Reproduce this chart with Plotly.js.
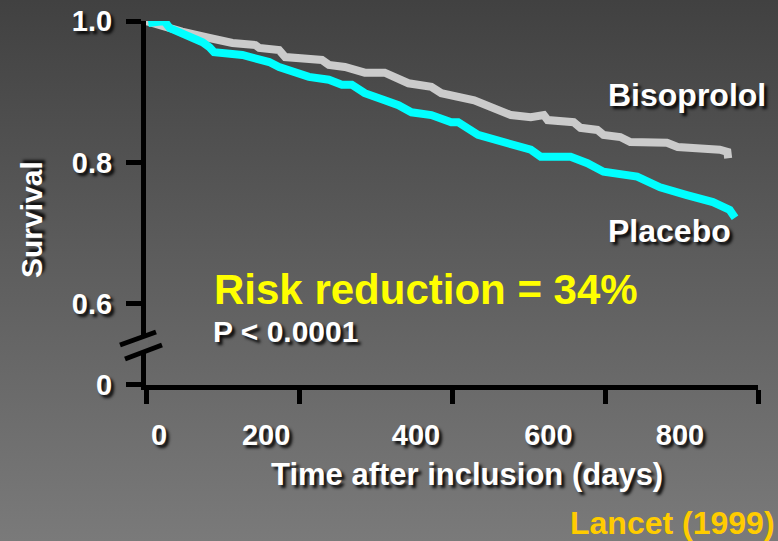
<!DOCTYPE html>
<html>
<head>
<meta charset="utf-8">
<script src="https://cdn.plot.ly/plotly-3.0.1.min.js"></script>
<style>
  html, body { margin: 0; padding: 0; }
  body { width: 778px; height: 541px; background: linear-gradient(to bottom, #414141 0%, #5e5e5e 50%, #7a7a7a 100%); overflow: hidden; }
  #chart { width: 778px; height: 541px; }
</style>
</head>
<body>
<div id="chart"></div>
<script>
// Kaplan-Meier survival
var bisoDays = [0, 24, 47, 83, 113, 143, 148, 174, 182, 230, 239, 260, 286, 312, 343, 373, 386, 429, 451, 477, 503, 520, 525, 559, 568, 590, 598, 620, 633, 681, 695, 741, 750, 760, 761];
var bisoSurv = [1.0, 0.991, 0.985, 0.976, 0.969, 0.966, 0.962, 0.959, 0.949, 0.945, 0.938, 0.935, 0.927, 0.927, 0.912, 0.907, 0.898, 0.888, 0.878, 0.867, 0.864, 0.867, 0.860, 0.857, 0.849, 0.846, 0.839, 0.836, 0.829, 0.828, 0.822, 0.820, 0.818, 0.815, 0.806];
var placDays = [3, 24, 31, 47, 57, 74, 83, 89, 126, 139, 161, 174, 191, 213, 239, 256, 269, 286, 312, 330, 347, 373, 399, 408, 434, 468, 503, 516, 555, 577, 598, 642, 672, 707, 741, 763, 770];
var placSurv = [0.997, 1.0, 0.990, 0.983, 0.976, 0.970, 0.963, 0.956, 0.952, 0.948, 0.942, 0.935, 0.928, 0.921, 0.917, 0.910, 0.910, 0.898, 0.888, 0.881, 0.871, 0.867, 0.857, 0.857, 0.839, 0.829, 0.818, 0.808, 0.808, 0.799, 0.787, 0.780, 0.765, 0.754, 0.744, 0.733, 0.722];

var xTickVals = [0, 200, 400, 600, 800];
var xTickLabels = ['0', '200', '400', '600', '800'];
var xLabelAt = [17, 157, 353, 526, 698];
var yTickVals = [0.4856, 0.6, 0.8, 1.0];
var yTickLabels = ['0', '0.6', '0.8', '1.0'];

var FONT = '"Liberation Sans", Arial, sans-serif';
var SH = '3px 3px 3px rgba(0,0,0,0.9)';

var traces = [
  {x: bisoDays, y: bisoSurv, type: 'scatter', mode: 'lines', name: 'Bisoprolol',
   line: {color: '#cbcbcb', width: 8}, hoverinfo: 'skip'},
  {x: placDays, y: placSurv, type: 'scatter', mode: 'lines', name: 'Placebo',
   line: {color: '#00ffff', width: 8}, hoverinfo: 'skip'},
  {x: [xLabelAt[0]], y: [null], xaxis: 'x2', yaxis: 'y', type: 'scatter', mode: 'markers',
   marker: {opacity: 0}, hoverinfo: 'skip', showlegend: false}
];

function px2x(p) { return (p - 146) / 612; }
function px2y(p) { return (385 - p) / 364; }

var layout = {
  width: 778, height: 541,
  margin: {l: 146, r: 20, t: 21, b: 156},
  paper_bgcolor: 'rgba(0,0,0,0)',
  plot_bgcolor: 'rgba(0,0,0,0)',
  showlegend: false,
  xaxis: {
    range: [0, 800], tickvals: xTickVals, ticktext: xTickLabels, showticklabels: false,
    ticks: 'outside', ticklen: 14, tickwidth: 5, tickcolor: '#000',
    showline: true, linewidth: 5, linecolor: '#000', showgrid: false, zeroline: false, fixedrange: true
  },
  xaxis2: {
    overlaying: 'x', anchor: 'y', side: 'bottom', range: [0, 800],
    tickvals: xLabelAt, ticktext: xTickLabels, ticks: '', showline: false, showgrid: false, zeroline: false,
    ticklabelstandoff: 30,
    tickfont: {family: FONT, size: 29, color: '#fff', weight: 'bold', shadow: SH}
  },
  yaxis: {
    range: [0.4855, 1.0], tickvals: yTickVals, ticktext: yTickLabels,
    ticks: 'outside', ticklen: 15, tickwidth: 5, tickcolor: '#000',
    showline: true, linewidth: 5, linecolor: '#000', showgrid: false, zeroline: false,
    ticklabelstandoff: 8,
    tickfont: {family: FONT, size: 29, color: '#fff', weight: 'bold', shadow: SH}
  },
  shapes: [
    {type: 'line', xref: 'paper', yref: 'paper', x0: px2x(143.5), x1: px2x(143.5), y0: px2y(337), y1: px2y(353),
     line: {color: '#676767', width: 9}, layer: 'above'},
    {type: 'line', xref: 'paper', yref: 'paper', x0: px2x(120), y0: px2y(345), x1: px2x(156), y1: px2y(332),
     line: {color: '#000', width: 5}, layer: 'above'},
    {type: 'line', xref: 'paper', yref: 'paper', x0: px2x(125), y0: px2y(359), x1: px2x(162), y1: px2y(345),
     line: {color: '#000', width: 5}, layer: 'above'}
  ],
  annotations: [
    {text: 'Bisoprolol', xref: 'paper', yref: 'paper', x: px2x(606), y: px2y(95), xanchor: 'left', yanchor: 'middle',
     showarrow: false, font: {family: FONT, size: 32, color: '#fff', weight: 'bold', shadow: SH}},
    {text: 'Placebo', xref: 'paper', yref: 'paper', x: px2x(606), y: px2y(231), xanchor: 'left', yanchor: 'middle',
     showarrow: false, font: {family: FONT, size: 32, color: '#fff', weight: 'bold', shadow: SH}},
    {text: 'Risk reduction = 34%', xref: 'paper', yref: 'paper', x: px2x(212), y: px2y(289), xanchor: 'left', yanchor: 'middle',
     showarrow: false, font: {family: FONT, size: 42, color: '#ffff00', weight: 'bold'}},
    {text: 'P < 0.0001', xref: 'paper', yref: 'paper', x: px2x(211), y: px2y(331), xanchor: 'left', yanchor: 'middle',
     showarrow: false, font: {family: FONT, size: 30, color: '#fff', weight: 'bold', shadow: SH}},
    {text: 'Time after inclusion (days)', xref: 'paper', yref: 'paper', x: px2x(467), y: px2y(474), xanchor: 'center', yanchor: 'middle',
     showarrow: false, font: {family: FONT, size: 31, color: '#fff', weight: 'bold', shadow: SH}},
    {text: 'Survival', xref: 'paper', yref: 'paper', x: px2x(31), y: px2y(220), xanchor: 'center', yanchor: 'middle', textangle: -90,
     showarrow: false, font: {family: FONT, size: 30, color: '#fff', weight: 'bold', shadow: SH}},
    {text: 'Lancet (1999)', xref: 'paper', yref: 'paper', x: px2x(777), y: px2y(523), xanchor: 'right', yanchor: 'middle',
     showarrow: false, font: {family: FONT, size: 32, color: '#ffcc00', weight: 'bold'}}
  ]
};

Plotly.newPlot('chart', traces, layout, {staticPlot: true, displayModeBar: false});
</script>
</body>
</html>
